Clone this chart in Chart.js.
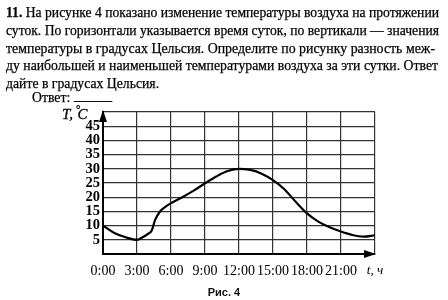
<!DOCTYPE html>
<html>
<head>
<meta charset="utf-8">
<script src="https://cdn.jsdelivr.net/npm/chart.js@4.4.0/dist/chart.umd.min.js"></script>
<style>
  html, body { margin:0; padding:0; background:#fff; }
  #wrap { position:relative; width:448px; height:300px; overflow:hidden; background:#fff; }
  canvas { position:absolute; left:0; top:0; }
  .ln { position:absolute; left:6px; white-space:nowrap; font-family:"Liberation Serif", serif; font-size:14.5px; line-height:1; color:#000; transform-origin:0 0; -webkit-text-stroke:0.25px #000; }
  #tlabel { position:absolute; left:62px; top:106px; font-family:"Liberation Serif", serif; font-size:15px; font-style:italic; color:#000; white-space:nowrap; -webkit-text-stroke:0.3px #000; }
  #cap { position:absolute; left:0; width:448px; top:286px; text-align:center; font-family:"Liberation Sans", sans-serif; font-weight:bold; font-size:11px; color:#111; }
</style>
</head>
<body>
<div id="wrap">
  <canvas id="c" width="448" height="300"></canvas>
  <div class="ln" id="l1" data-w="433" style="top:5px"><b>11.</b> На рисунке 4 показано изменение температуры воздуха на протяжении</div>
  <div class="ln" id="l2" data-w="433" style="top:22.5px">суток. По горизонтали указывается время суток, по вертикали — значения</div>
  <div class="ln" id="l3" data-w="429" style="top:40.5px">температуры в градусах Цельсия. Определите по рисунку разность меж-</div>
  <div class="ln" id="l4" data-w="432" style="top:58px">ду наибольшей и наименьшей температурами воздуха за эти сутки. Ответ</div>
  <div class="ln" id="l5" style="top:75.5px">дайте в градусах Цельсия.</div>
  <div class="ln" id="l6" style="top:90px;left:32px">Ответ: <span style="display:inline-block;width:41px;border-bottom:1px solid #111;height:10px;vertical-align:baseline"></span></div>
  <div id="tlabel">T,<span style="position:relative;top:-6px;font-style:normal;font-size:11px;margin-left:3px">°</span><span style="margin-left:-3px">C</span></div>
  <div id="cap"><span>Рис. 4</span></div>
</div>
<script>
// ---- data ----
const hours = [0, 1, 2, 3, 3.5, 4, 4.3, 4.6, 5, 5.5, 6, 7, 8, 9, 10, 11, 12, 13, 14, 15, 16, 17, 18, 19, 20, 21, 22, 23, 24];
const temps = [10, 7.4, 5.9, 5.0, 5.9, 7.2, 8.3, 12.0, 14.8, 16.6, 17.9, 20.0, 22.3, 24.9, 27.3, 29.2, 30, 29.6, 28.3, 26, 22.8, 18.4, 14.3, 11.4, 9.4, 7.9, 6.7, 6.1, 6.6];
const xTicks = [0, 3, 6, 9, 12, 15, 18, 21, 24];
const xTickLabels = ['0:00', '3:00', '6:00', '9:00', '12:00', '15:00', '18:00', '21:00', 't, ч'];
const yTicks = [0, 5, 10, 15, 20, 25, 30, 35, 40, 45, 50];
const yTickLabels = ['', '5', '10', '15', '20', '25', '30', '35', '40', '45', ''];

// fit justified text lines to their widths; other lines use the average scale
const fitted = Array.from(document.querySelectorAll('.ln[data-w]'));
const scales = fitted.map(el => parseFloat(el.dataset.w) / el.getBoundingClientRect().width);
fitted.forEach((el, i) => { el.style.transform = 'scaleX(' + scales[i] + ')'; });
const avg = scales.reduce((a, b) => a + b, 0) / scales.length;
document.querySelectorAll('.ln:not([data-w])').forEach(el => { el.style.transform = 'scaleX(' + avg + ')'; });

const arrows = {
  id: 'arrows',
  afterDraw(chart) {
    const a = chart.chartArea, ctx = chart.ctx;
    ctx.save();
    ctx.fillStyle = '#000';
    ctx.beginPath();
    ctx.moveTo(a.left, a.top - 2);
    ctx.lineTo(a.left - 4, a.top + 10);
    ctx.lineTo(a.left + 4, a.top + 10);
    ctx.closePath(); ctx.fill();
    ctx.beginPath();
    ctx.moveTo(a.right + 1, a.bottom);
    ctx.lineTo(a.right - 11, a.bottom - 4);
    ctx.lineTo(a.right - 11, a.bottom + 4);
    ctx.closePath(); ctx.fill();
    ctx.restore();
  }
};

const serif = 'Liberation Serif';
new Chart(document.getElementById('c'), {
  type: 'line',
  data: {
    datasets: [{
      data: hours.map((h, i) => ({ x: h, y: temps[i] })),
      borderColor: '#000',
      borderWidth: 2.2,
      pointRadius: 0,
      fill: false,
      cubicInterpolationMode: 'monotone'
    }]
  },
  options: {
    responsive: false,
    animation: false,
    layout: { padding: { left: 0, top: 112, right: 73, bottom: 0 } },
    plugins: { legend: { display: false }, tooltip: { enabled: false } },
    scales: {
      x: {
        type: 'linear', min: 0, max: 24,
        afterBuildTicks: sc => { sc.ticks = xTicks.map(v => ({ value: v })); },
        afterFit: sc => { sc.height = 46; },
        grid: { color: '#333', lineWidth: 1.2, drawTicks: false },
        border: { display: true, color: '#000', width: 2 },
        ticks: {
          autoSkip: false, maxRotation: 0, padding: 9, color: '#000',
          callback: (v) => xTickLabels[xTicks.indexOf(v)],
          font: (ctx) => (ctx.index === 8 ? { family: serif, size: 13, style: 'italic' } : { family: serif, size: 14 })
        }
      },
      y: {
        type: 'linear', min: 0, max: 50,
        afterBuildTicks: sc => { sc.ticks = yTicks.map(v => ({ value: v })); },
        afterFit: sc => { sc.width = 103; },
        grid: { color: '#333', lineWidth: 1.2, drawTicks: false },
        border: { display: true, color: '#000', width: 2 },
        ticks: {
          autoSkip: false, padding: 3, color: '#000',
          callback: (v) => yTickLabels[yTicks.indexOf(v)],
          font: { family: serif, size: 14.5, weight: 'bold' }
        }
      }
    }
  },
  plugins: [arrows]
});
</script>
</body>
</html>
